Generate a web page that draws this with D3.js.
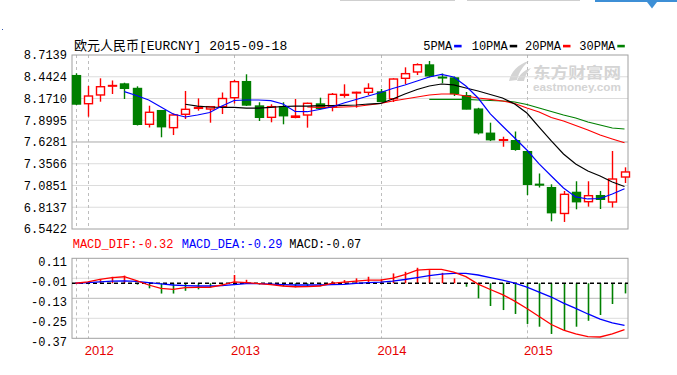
<!DOCTYPE html>
<html>
<head>
<meta charset="utf-8">
<script src="https://cdn.jsdelivr.net/npm/d3@7/dist/d3.min.js"></script>
<style>
  body { margin: 0; background: #fff; }
  text { font-family: "Liberation Mono", "Noto Sans CJK SC", monospace; }
</style>
</head>
<body>
<div id="chart"></div>
<script>
// monthly candles, Dec 2011 .. Sep 2015
const months = ["2011-12",
  "2012-01","2012-02","2012-03","2012-04","2012-05","2012-06","2012-07","2012-08","2012-09","2012-10","2012-11","2012-12",
  "2013-01","2013-02","2013-03","2013-04","2013-05","2013-06","2013-07","2013-08","2013-09","2013-10","2013-11","2013-12",
  "2014-01","2014-02","2014-03","2014-04","2014-05","2014-06","2014-07","2014-08","2014-09","2014-10","2014-11","2014-12",
  "2015-01","2015-02","2015-03","2015-04","2015-05","2015-06","2015-07","2015-08","2015-09"];

const openP  = [8.456,8.106,8.215,8.327,8.352,8.296,7.849,8.019,7.807,7.974,8.048,8.040,8.069,8.181,8.381,8.077,7.936,8.069,7.936,7.965,8.102,8.065,8.211,8.240,8.248,8.252,8.168,8.423,8.502,8.589,8.436,8.427,8.205,8.038,7.737,7.649,7.644,7.507,7.100,7.058,6.736,6.999,6.883,6.958,6.879,7.191];
const closeP = [8.102,8.202,8.318,8.333,8.298,7.849,7.999,7.819,7.965,8.036,8.058,8.069,8.171,8.381,8.090,7.936,8.069,7.956,7.952,8.111,8.049,8.223,8.221,8.248,8.298,8.136,8.414,8.481,8.593,8.454,8.430,8.233,8.040,7.744,7.657,7.657,7.537,7.100,7.091,6.746,6.975,6.883,6.958,6.913,7.166,7.254];
const highP  = [8.485,8.327,8.423,8.396,8.368,8.323,8.081,8.027,7.986,8.265,8.173,8.077,8.246,8.402,8.473,8.124,8.099,8.124,8.165,8.119,8.181,8.240,8.348,8.256,8.361,8.290,8.423,8.560,8.610,8.639,8.483,8.446,8.252,8.055,7.869,7.694,7.759,7.519,7.235,7.100,7.017,7.138,7.138,7.017,7.516,7.312];
const lowP   = [8.090,7.944,8.131,8.227,8.165,7.834,7.809,7.687,7.715,7.915,8.019,7.869,7.977,8.109,8.077,7.890,7.874,7.849,7.924,7.807,8.036,8.011,8.181,8.056,8.215,8.127,8.127,8.352,8.464,8.436,8.361,8.202,8.036,7.722,7.640,7.569,7.519,6.966,7.060,6.638,6.630,6.788,6.821,6.792,6.810,7.116];

const ma5  = [null,null,null,null,8.256,8.208,8.152,8.065,7.978,7.940,7.965,7.996,8.077,8.146,8.152,8.152,8.144,8.102,8.009,8.006,8.034,8.065,8.115,8.159,8.202,8.246,8.296,8.340,8.389,8.439,8.471,8.439,8.327,8.177,7.978,7.828,7.678,7.528,7.354,7.204,7.054,6.942,6.917,6.923,6.979,7.045];
const ma10 = [null,null,null,null,null,null,null,null,null,8.099,8.077,8.065,8.061,8.061,8.052,8.052,8.059,8.071,8.077,8.077,8.081,8.081,8.084,8.090,8.102,8.109,8.165,8.227,8.283,8.327,8.352,8.340,8.302,8.265,8.221,8.177,8.102,7.990,7.815,7.641,7.478,7.354,7.266,7.204,7.129,7.073];
const ma20 = [null,null,null,null,null,null,null,null,null,null,null,null,null,null,null,null,null,null,null,8.065,8.059,8.061,8.065,8.071,8.090,8.111,8.140,8.165,8.190,8.215,8.227,8.227,8.202,8.177,8.159,8.140,8.109,8.052,8.002,7.934,7.890,7.834,7.778,7.715,7.666,7.619];
const ma30 = [null,null,null,null,null,null,null,null,null,null,null,null,null,null,null,null,null,null,null,null,null,null,null,null,null,null,null,null,null,8.161,8.161,8.161,8.159,8.152,8.146,8.140,8.127,8.096,8.052,8.009,7.965,7.928,7.878,7.840,7.803,7.790];

const dif  = [0,0.010,0.027,0.039,0.045,0.019,-0.012,-0.035,-0.042,-0.030,-0.028,-0.028,-0.012,0.010,0.005,-0.002,-0.009,-0.019,-0.024,-0.023,-0.019,-0.001,0.008,0.015,0.022,0.022,0.036,0.060,0.091,0.096,0.096,0.077,0.046,-0.006,-0.043,-0.078,-0.123,-0.174,-0.230,-0.285,-0.323,-0.350,-0.368,-0.371,-0.350,-0.32];
const dea  = [0,0.005,0.010,0.015,0.017,0.013,0.005,-0.004,-0.012,-0.016,-0.019,-0.019,-0.016,-0.009,-0.002,-0.003,-0.006,-0.009,-0.012,-0.012,-0.012,-0.010,-0.008,-0.001,0.005,0.008,0.015,0.026,0.039,0.053,0.063,0.068,0.068,0.057,0.039,0.022,0.001,-0.026,-0.061,-0.095,-0.137,-0.174,-0.212,-0.247,-0.274,-0.29];
const macd = [0,0.008,0.027,0.045,0.053,-0.009,-0.035,-0.071,-0.071,-0.052,-0.042,-0.030,-0.012,0.057,0.024,-0.009,-0.006,-0.021,-0.028,-0.024,-0.021,0.014,0.022,0.034,0.045,0.027,0.068,0.079,0.107,0.091,0.072,0.034,-0.024,-0.104,-0.157,-0.185,-0.212,-0.281,-0.300,-0.350,-0.323,-0.300,-0.259,-0.219,-0.143,-0.07];

const priceTicks = [8.7139, 8.4424, 8.1710, 7.8995, 7.6281, 7.3566, 7.0851, 6.8137, 6.5422];
const macdTicks = [0.11, -0.01, -0.13, -0.25, -0.37];
const yearLabels = ["2012", "2013", "2014", "2015"];

const W = 677, H = 375;
const box = { left: 72, right: 628, top: 55, bottom: 229 };
const mbox = { top: 258.3, bottom: 338.3 };

const svg = d3.select("#chart").append("svg")
    .attr("width", W)
    .attr("height", H);

// page bits above the chart
svg.append("line").attr("x1", 340).attr("x2", 455).attr("y1", 0.5).attr("y2", 0.5).attr("stroke", "#cfcfcf");
svg.append("line").attr("x1", 467).attr("x2", 580).attr("y1", 0.5).attr("y2", 0.5).attr("stroke", "#cfcfcf");
svg.append("rect").attr("x", 595).attr("y", 0).attr("width", 82).attr("height", 2).attr("fill", "#3d8fd6");
svg.append("path").attr("d", "M647,2 L657,2 L652,8.5 Z").attr("fill", "#3d8fd6");
svg.append("rect").attr("x", 2).attr("y", 29).attr("width", 1).attr("height", 1).attr("fill", "#3355aa");

// scales
const x = d3.scaleBand().domain(months).range([69.4, 630.6]);
const cx = m => x(m) + x.bandwidth() / 2;
const y = d3.scaleLinear().domain([6.5422, 8.7139]).range([box.bottom, box.top]);
const yM = d3.scaleLinear().domain([-0.38, 0.1724]).range([mbox.bottom, mbox.top]);
const yMAxis = d3.scaleLinear().domain([-0.37, 0.11]).range([mbox.bottom, mbox.top]);

// watermark
const wm = svg.append("g").attr("fill", "#d4d4d4");
wm.append("path").attr("d", "M509,81 C511,72 518,64 529,61 C523,66 519,72 517,80 Z");
wm.append("path").attr("d", "M517,81 C519,75 524,70 531,68 C527,72 525,76 524,81 Z");
wm.append("text").attr("x", 533).attr("y", 71.5).attr("dominant-baseline", "central")
    .style("font-family", "'Noto Sans CJK SC'").style("font-weight", "bold").style("font-size", "15px")
    .attr("textLength", 88).attr("lengthAdjust", "spacingAndGlyphs")
    .text("东方财富网");
wm.append("text").attr("x", 533).attr("y", 87).attr("dominant-baseline", "central")
    .style("font-family", "'Liberation Sans'").style("font-weight", "bold").style("font-size", "10px")
    .attr("textLength", 88).attr("lengthAdjust", "spacingAndGlyphs")
    .text("eastmoney.com");

// horizontal grid
svg.append("g").selectAll("line")
    .data(priceTicks.slice(1, -1))
    .join("line")
    .attr("x1", box.left).attr("x2", box.right)
    .attr("y1", d => y(d)).attr("y2", d => y(d))
    .attr("stroke", (d, i) => i === 3 ? "#a8a8a8" : "#dcdcdc");

svg.append("g").selectAll("line")
    .data(macdTicks.slice(1, -1))
    .join("line")
    .attr("x1", box.left).attr("x2", box.right)
    .attr("y1", d => yMAxis(d)).attr("y2", d => yMAxis(d))
    .attr("stroke", (d, i) => i === 1 ? "#b8b8b8" : "#dcdcdc");

// vertical dashed lines: first candle + each January
const vMonths = [months[0]].concat(months.filter(m => m.endsWith("-01")));
[[box.top, box.bottom], [mbox.top, mbox.bottom]].forEach(([t, b]) => {
    svg.append("g").selectAll("line")
        .data(vMonths)
        .join("line")
        .attr("x1", d => Math.round(cx(d)) + 0.5).attr("x2", d => Math.round(cx(d)) + 0.5)
        .attr("y1", t).attr("y2", b)
        .attr("stroke", "#bdbdbd")
        .attr("stroke-dasharray", "3,3");
});

// boxes
svg.append("rect").attr("x", box.left).attr("y", box.top)
    .attr("width", box.right - box.left).attr("height", box.bottom - box.top)
    .attr("fill", "none").attr("stroke", "#a0a0a0");
svg.append("rect").attr("x", box.left).attr("y", mbox.top)
    .attr("width", box.right - box.left).attr("height", mbox.bottom - mbox.top)
    .attr("fill", "none").attr("stroke", "#a0a0a0");

// axes
const yAxis = svg.append("g")
    .attr("transform", `translate(${box.left},0)`)
    .call(d3.axisLeft(y).tickValues(priceTicks).tickSize(0).tickPadding(5).tickFormat(d => d.toFixed(4)));
yAxis.select(".domain").remove();
yAxis.selectAll("text").style("font-family", "'Liberation Mono'").style("font-size", "12px").attr("fill", "#000");

const mAxis = svg.append("g")
    .attr("transform", `translate(${box.left},3)`)
    .call(d3.axisLeft(yMAxis).tickValues(macdTicks).tickSize(0).tickPadding(5).tickFormat(d => d.toFixed(2)));
mAxis.select(".domain").remove();
mAxis.selectAll("text").style("font-family", "'Liberation Mono'").style("font-size", "12px").attr("fill", "#000");

// year labels under MACD panel
svg.append("g").selectAll("text")
    .data(yearLabels)
    .join("text")
    .attr("x", d => cx(d + "-01") - 3)
    .attr("y", 350)
    .attr("dominant-baseline", "central")
    .style("font-family", "'Liberation Sans'")
    .style("font-size", "13px")
    .attr("fill", "#e60000")
    .text(d => d);

// candles
const candles = months.map((m, i) => ({ m, o: openP[i], c: closeP[i], h: highP[i], l: lowP[i] }));
const cg = svg.append("g");
candles.forEach(d => {
    const up = d.c >= d.o;
    const col = up ? "#ff0000" : "#007f00";
    const xc = Math.round(cx(d.m)) + 0.5;
    cg.append("line")
        .attr("x1", xc).attr("x2", xc)
        .attr("y1", y(d.h)).attr("y2", y(d.l))
        .attr("stroke", col).attr("stroke-width", 1.4);
    const top = y(Math.max(d.o, d.c));
    const hgt = Math.max(Math.abs(y(d.o) - y(d.c)), 0.6);
    cg.append("rect")
        .attr("x", xc - 4).attr("width", 8)
        .attr("y", top).attr("height", hgt)
        .attr("fill", up ? "#fff" : col)
        .attr("stroke", col).attr("stroke-width", 1.4);
});

// moving averages
const maLine = d3.line()
    .defined(d => d != null)
    .x((d, i) => cx(months[i]))
    .y(d => y(d));
[[ma30, "#008000"], [ma20, "#ff0000"], [ma10, "#000000"], [ma5, "#0000ff"]].forEach(([s, col]) => {
    svg.append("path").datum(s)
        .attr("d", maLine)
        .attr("fill", "none")
        .attr("stroke", col)
        .attr("stroke-width", 1.2);
});

// MACD histogram
svg.append("g").selectAll("line")
    .data(macd)
    .join("line")
    .attr("x1", (d, i) => Math.round(cx(months[i])) + 0.5)
    .attr("x2", (d, i) => Math.round(cx(months[i])) + 0.5)
    .attr("y1", yM(0))
    .attr("y2", d => yM(d))
    .attr("stroke", d => d >= 0 ? "#ff0000" : "#008000")
    .attr("stroke-width", 1.6);

svg.append("line")
    .attr("x1", box.left).attr("x2", box.right)
    .attr("y1", yM(0)).attr("y2", yM(0))
    .attr("stroke", "#000").attr("stroke-width", 1.3)
    .attr("stroke-dasharray", "4,3");

const mLine = d3.line()
    .x((d, i) => cx(months[i]))
    .y(d => yM(d));
svg.append("path").datum(dea).attr("d", mLine)
    .attr("fill", "none").attr("stroke", "#0000ff").attr("stroke-width", 1.3);
svg.append("path").datum(dif).attr("d", mLine)
    .attr("fill", "none").attr("stroke", "#ff0000").attr("stroke-width", 1.3);

// title
svg.append("text")
    .attr("x", 74).attr("y", 46.5)
    .attr("dominant-baseline", "central")
    .style("font-size", "13px")
    .attr("fill", "#000")
    .text("欧元人民币[EURCNY] 2015-09-18");

// MA legend
const legend = [["5PMA", "#0000ff", 423.3], ["10PMA", "#000000", 471.7], ["20PMA", "#ff0000", 525], ["30PMA", "#008000", 579.3]];
legend.forEach(([name, col, lx]) => {
    svg.append("text")
        .attr("x", lx).attr("y", 46.5)
        .attr("dominant-baseline", "central")
        .style("font-size", "12px")
        .attr("fill", "#000")
        .text(name);
    const w = name.length * 7.2;
    svg.append("rect")
        .attr("x", lx + w + 2).attr("y", 44.8)
        .attr("width", 7.5).attr("height", 2.6)
        .attr("fill", col);
});

// MACD legend
const mLegend = [["MACD_DIF:-0.32", "#ff0000", 72.7], ["MACD_DEA:-0.29", "#0000ff", 181.7], ["MACD:-0.07", "#000000", 289.3]];
mLegend.forEach(([txt, col, lx]) => {
    svg.append("text")
        .attr("x", lx).attr("y", 245)
        .attr("dominant-baseline", "central")
        .style("font-size", "12px")
        .attr("fill", col)
        .text(txt);
});
</script>
</body>
</html>
